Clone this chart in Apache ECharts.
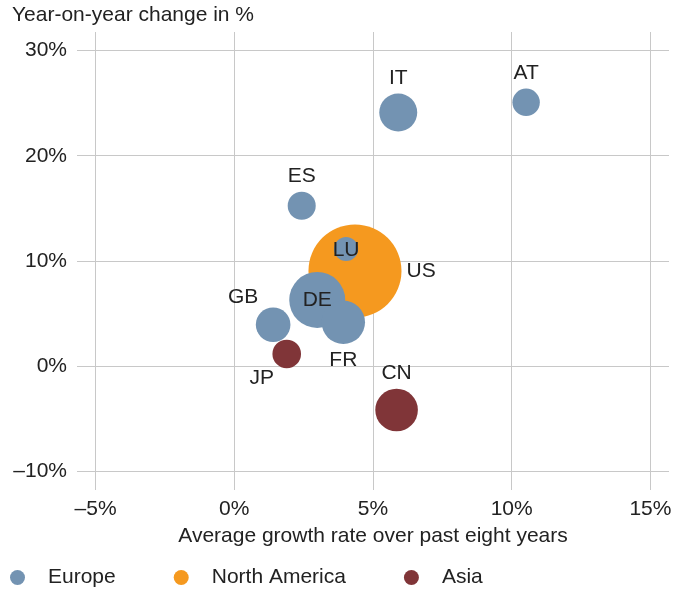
<!DOCTYPE html>
<html>
<head>
<meta charset="utf-8">
<script src="https://cdn.jsdelivr.net/npm/echarts@6/dist/echarts.min.js"></script>
<style>
  html, body { margin: 0; padding: 0; background: #fff; }
  #chart { width: 688px; height: 590px; }
</style>
</head>
<body>
<div id="chart"></div>
<script>
// bubble chart: growth vs. yoy change
const countries = ['IT', 'AT', 'ES', 'LU', 'US', 'DE', 'FR', 'GB', 'JP', 'CN']
const regions = ['Europe', 'Europe', 'Europe', 'Europe', 'North America', 'Europe', 'Europe', 'Europe', 'Asia', 'Asia']
const avgGrowth = [5.91, 10.52, 2.43, 4.03, 4.35, 2.99, 3.93, 1.40, 1.89, 5.85]
const yoyChange = [24.1, 25.07, 15.25, 11.14, 9.05, 6.3, 4.18, 3.95, 1.17, -4.15]
const volume = [17.8, 9.3, 9.7, 7.1, 106.8, 38.7, 23.3, 14.8, 10.1, 22.4]

const xTicks = [-5, 0, 5, 10, 15]
const yTicks = [-10, 0, 10, 20, 30]

const regionList = ['Europe', 'North America', 'Asia']
const regionColors = { 'Europe': '#7393b2', 'North America': '#f5991f', 'Asia': '#803538' }

const fontFamily = '"Liberation Sans", Arial, sans-serif'
const fontSize = 21
const textColor = '#222'

// where each country name sits next to its bubble
const labelPlace = {
  IT: { position: 'top', distance: 5 },
  AT: { position: 'top', distance: 5 },
  ES: { position: 'top', distance: 5 },
  CN: { position: 'top', distance: 5 },
  LU: { position: 'inside', offset: [0, 1] },
  DE: { position: 'inside' },
  US: { position: 'right', distance: 5 },
  FR: { position: 'bottom', distance: 6 },
  GB: { position: 'inside', offset: [-30, -27] },
  JP: { position: 'inside', offset: [-25, 24] }
}

function pct(v) {
  return (v < 0 ? '\u2013' + Math.abs(v) : v) + '%'
}

function buildSeries(region) {
  const data = []
  for (let i = 0; i < countries.length; i++) {
    if (regions[i] !== region) continue
    data.push({
      name: countries[i],
      value: [avgGrowth[i], yoyChange[i], volume[i]],
      label: labelPlace[countries[i]]
    })
  }
  return {
    name: region,
    type: 'scatter',
    data: data,
    symbolSize: function(val) {
      return 9 * Math.sqrt(val[2])
    },
    itemStyle: { color: regionColors[region], opacity: 1 },
    label: {
      show: true,
      formatter: '{b}',
      color: textColor,
      fontFamily: fontFamily,
      fontSize: fontSize
    },
    emphasis: { disabled: true }
  }
}

const chart = echarts.init(document.getElementById('chart'))
chart.setOption({
  animation: false,
  title: {
    text: 'Year-on-year change in %',
    left: 7,
    top: 0,
    textStyle: { color: textColor, fontFamily: fontFamily, fontSize: fontSize, fontWeight: 'normal' }
  },
  grid: { left: 77, right: 19, top: 32, bottom: 100 },
  legend: {
    data: regionList,
    left: 5,
    top: 562,
    icon: 'circle',
    itemWidth: 15,
    itemHeight: 15,
    itemGap: 58,
    textStyle: { color: textColor, fontFamily: fontFamily, fontSize: fontSize, padding: [0, 0, 0, 18] }
  },
  xAxis: {
    type: 'value',
    min: -5.67,
    max: 15.67,
    name: 'Average growth rate over past eight years',
    nameLocation: 'middle',
    nameGap: 36,
    nameTextStyle: { color: textColor, fontFamily: fontFamily, fontSize: fontSize },
    axisLine: { show: false },
    axisTick: { show: false, customValues: xTicks },
    axisLabel: {
      customValues: xTicks,
      formatter: pct,
      color: textColor,
      fontFamily: fontFamily,
      fontSize: fontSize,
      margin: 9
    },
    splitLine: { show: true, lineStyle: { color: '#c8c8c8', width: 1 } }
  },
  yAxis: {
    type: 'value',
    min: -11.75,
    max: 31.75,
    axisLine: { show: false },
    axisTick: { show: false, customValues: yTicks },
    axisLabel: {
      customValues: yTicks,
      formatter: pct,
      color: textColor,
      fontFamily: fontFamily,
      fontSize: fontSize,
      margin: 10
    },
    splitLine: { show: true, lineStyle: { color: '#c8c8c8', width: 1 } }
  },
  series: [
    buildSeries('North America'),
    buildSeries('Europe'),
    buildSeries('Asia')
  ]
})
</script>
</body>
</html>
